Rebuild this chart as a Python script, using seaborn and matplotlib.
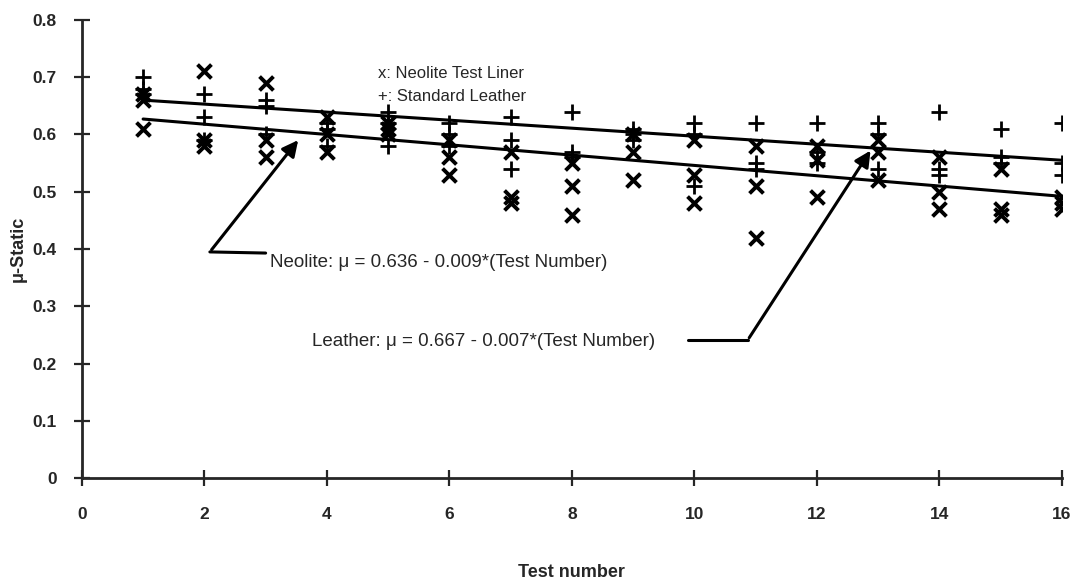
import numpy as np
import pandas as pd
import matplotlib
matplotlib.use("Agg")
import matplotlib.pyplot as plt
import seaborn as sns

# ---- data ----
test_numbers = list(range(1, 17))
neolite_mu = [
    [0.67, 0.66, 0.61], [0.71, 0.59, 0.58], [0.69, 0.59, 0.56], [0.63, 0.60, 0.57],
    [0.62, 0.61, 0.60], [0.59, 0.56, 0.53], [0.57, 0.49, 0.48], [0.55, 0.51, 0.46],
    [0.60, 0.57, 0.52], [0.59, 0.53, 0.48], [0.58, 0.51, 0.42], [0.58, 0.555, 0.49],
    [0.59, 0.57, 0.52], [0.56, 0.50, 0.47], [0.54, 0.47, 0.46], [0.49, 0.48, 0.47],
]
leather_mu = [
    [0.70, 0.68, 0.67], [0.67, 0.63, 0.59], [0.66, 0.65, 0.60], [0.62, 0.61, 0.58],
    [0.64, 0.62, 0.58], [0.62, 0.60, 0.58], [0.63, 0.59, 0.54], [0.64, 0.57, 0.56],
    [0.61, 0.60, 0.59], [0.62, 0.60, 0.51], [0.62, 0.55, 0.54], [0.62, 0.57, 0.55],
    [0.62, 0.60, 0.54], [0.64, 0.54, 0.53], [0.61, 0.56, 0.55], [0.62, 0.55, 0.53],
]
neolite_fit = (0.636, -0.009)   # intercept, slope
leather_fit = (0.667, -0.007)
fit_range = [1, 16]
x_ticks = [0, 2, 4, 6, 8, 10, 12, 14, 16]
y_ticks = [0, 0.1, 0.2, 0.3, 0.4, 0.5, 0.6, 0.7, 0.8]

sns.set_style("ticks")
plt.rcParams['font.family'] = ['Liberation Sans', 'DejaVu Sans']

neo_df = pd.DataFrame({
    "test": np.repeat(test_numbers, [len(v) for v in neolite_mu]),
    "mu": [m for v in neolite_mu for m in v],
})
lea_df = pd.DataFrame({
    "test": np.repeat(test_numbers, [len(v) for v in leather_mu]),
    "mu": [m for v in leather_mu for m in v],
})
fit_x = np.array(fit_range, dtype=float)
neo_line = pd.DataFrame({"test": fit_x, "mu": neolite_fit[0] + neolite_fit[1] * fit_x})
lea_line = pd.DataFrame({"test": fit_x, "mu": leather_fit[0] + leather_fit[1] * fit_x})

fig = plt.figure(figsize=(10.77, 5.86), dpi=100)
ax = fig.add_axes([0.076, 0.184, 0.910, 0.782])

sns.scatterplot(data=neo_df, x="test", y="mu", marker="x", s=100, color="black",
                linewidth=2.8, ax=ax, zorder=3)
sns.scatterplot(data=lea_df, x="test", y="mu", marker="+", s=120, color="black",
                linewidth=2.0, ax=ax, zorder=3)
sns.lineplot(data=neo_line, x="test", y="mu", color="black", linewidth=2.2, ax=ax)
sns.lineplot(data=lea_line, x="test", y="mu", color="black", linewidth=2.2, ax=ax)

ax.set_xlim(0, 16)
ax.set_ylim(0, 0.8)
ax.set_xticks(x_ticks)
ax.set_yticks(y_ticks)
ax.set_xticklabels([str(t) for t in x_ticks], fontsize=12.5, fontweight="bold")
ax.set_yticklabels(["0" if t == 0 else f"{t:.1f}" for t in y_ticks], fontsize=12.5, fontweight="bold")
ax.tick_params(direction="inout", length=12, width=1.6)
ax.tick_params(axis="x", pad=15)
ax.tick_params(axis="y", pad=12)
for side in ["top", "right"]:
    ax.spines[side].set_visible(False)
for side in ["left", "bottom"]:
    ax.spines[side].set_linewidth(2.0)
    ax.spines[side].set_clip_on(False)
ax.set_xlabel("Test number", fontsize=13, fontweight="bold", labelpad=30)
ax.set_ylabel("\u03bc-Static", fontsize=13, fontweight="bold", labelpad=4)

# legend-like text
ax.text(4.83, 0.706, "x: Neolite Test Liner", fontsize=12, va="center", ha="left")
ax.text(4.83, 0.667, "+: Standard Leather", fontsize=12, va="center", ha="left")

# annotations with arrows
ax.text(3.07, 0.376, "Neolite: \u03bc = 0.636 - 0.009*(Test Number)", fontsize=13.5,
        va="center", ha="left")
ax.plot([3.0, 2.09], [0.393, 0.395], color="black", linewidth=2.2)
ax.annotate("", xy=(3.56, 0.594), xytext=(2.09, 0.395),
            arrowprops=dict(arrowstyle="-|>", color="black", lw=2.2, mutation_scale=24))

ax.text(3.76, 0.239, "Leather: \u03bc = 0.667 - 0.007*(Test Number)", fontsize=13.5,
        va="center", ha="left")
ax.plot([9.9, 10.87], [0.241, 0.241], color="black", linewidth=2.2)
ax.annotate("", xy=(12.9, 0.576), xytext=(10.87, 0.241),
            arrowprops=dict(arrowstyle="-|>", color="black", lw=2.2, mutation_scale=24))

fig.savefig("out.png", dpi=100, facecolor="white")
